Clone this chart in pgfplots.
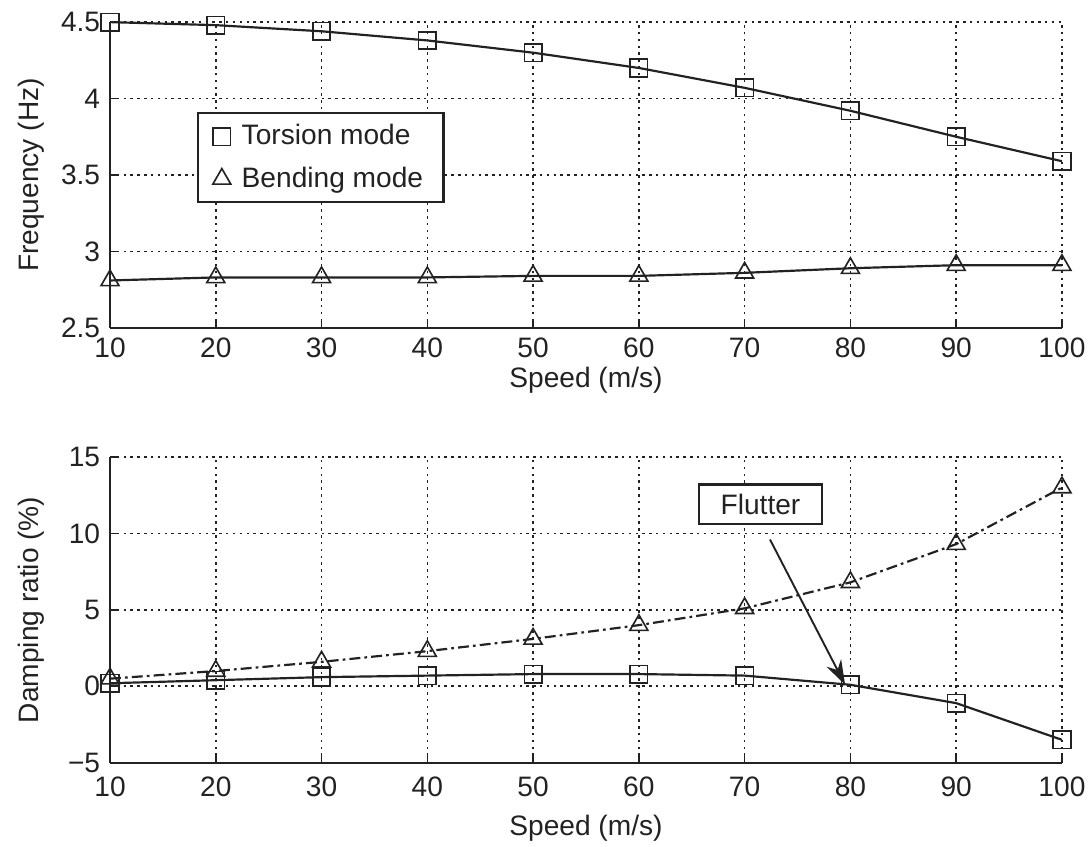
\documentclass[border=0pt]{standalone}
\usepackage{pgfplots}
\pgfplotsset{compat=1.18}
\usepackage{fontspec}
\setmainfont{Liberation Sans}
\usetikzlibrary{arrows.meta}
\definecolor{ink}{HTML}{222222}
\begin{document}
\fontsize{10.3}{12}\selectfont
\begin{tikzpicture}
\pgfplotsset{
  every axis/.append style={
    scale only axis, width=348.7pt, height=112pt,
    axis x line*=bottom, axis y line*=left,
    axis line style={-, ink, line width=0.8pt},
    tick align=inside, tick style={ink, line width=0.6pt}, major tick length=3pt,
    grid=major,
    major grid style={ink, line width=0.6pt, dash pattern=on 0.9pt off 1.6pt},
    xmin=10, xmax=100, xtick={10,20,...,100},
    /pgf/number format/assume math mode=true,
    tick label style={font=\fontsize{10.3}{12}\selectfont, text=ink},
    label style={font=\fontsize{10.3}{12}\selectfont, text=ink},
    ylabel style={at={(axis description cs:-0.083,0.5)}, anchor=center},
    clip=false,
  },
}
\useasboundingbox (-40.3pt,-189.8pt) rectangle (359.7pt,120.1pt);
% Top axis
\begin{axis}[at={(0,0)}, anchor=south west,
  ymin=2.5, ymax=4.5, ytick={2.5,3,3.5,4,4.5}, yticklabels={2.5,3,3.5,4,4.5},
  xlabel={Speed (m/s)}, ylabel={Frequency (Hz)},
  xlabel style={at={(axis description cs:0.5,0)}, anchor=center, yshift=-19pt},
  legend style={at={(axis cs:18.2,3.91)}, anchor=north west, draw=ink, line width=0.8pt,
    font=\fontsize{10.3}{12}\selectfont, text=ink, fill=white,
    row sep=2.5pt, inner xsep=5.5pt, inner ysep=2pt,
    /tikz/every odd column/.append style={column sep=2pt}},
  legend cell align=left,
]
\addlegendimage{only marks, mark=square, mark size=3.2pt, ink, line width=0.6pt}
\addlegendentry{Torsion mode}
\addlegendimage{only marks, mark=triangle, mark size=3.8pt, ink, line width=0.6pt}
\addlegendentry{Bending mode}
\addplot[ink, line width=0.8pt, mark=square, mark size=3.2pt, mark options={line width=0.6pt}, forget plot] coordinates {
(10,4.50) (20,4.48) (30,4.44) (40,4.38) (50,4.30) (60,4.20) (70,4.07) (80,3.92) (90,3.75) (100,3.59)};
\addplot[ink, line width=0.8pt, mark=triangle, mark size=3.8pt, mark options={line width=0.6pt}, forget plot] coordinates {
(10,2.81) (20,2.83) (30,2.83) (40,2.83) (50,2.84) (60,2.84) (70,2.86) (80,2.89) (90,2.91) (100,2.91)};
\end{axis}
% Bottom axis
\begin{axis}[at={(0,-159.3pt)}, anchor=south west,
  ymin=-5, ymax=15, ytick={-5,0,5,10,15}, yticklabels={−5,0,5,10,15},
  xlabel={Speed (m/s)}, ylabel={Damping ratio (\%)},
  xlabel style={at={(axis description cs:0.5,0)}, anchor=center, yshift=-24pt},
  xticklabel style={yshift=-1.5pt},
]
\addplot[ink, line width=0.8pt, mark=square, mark size=3.2pt, mark options={line width=0.6pt}] coordinates {
(10,0.2) (20,0.4) (30,0.6) (40,0.7) (50,0.8) (60,0.8) (70,0.7) (80,0.1) (90,-1.1) (100,-3.5)};
\addplot[ink, line width=0.8pt, dash pattern=on 4pt off 1.5pt on 1pt off 1.5pt, mark=triangle, mark size=3.8pt, mark options={solid, line width=0.6pt}] coordinates {
(10,0.5) (20,1.0) (30,1.6) (40,2.3) (50,3.1) (60,4.0) (70,5.1) (80,6.8) (90,9.3) (100,13.0)};
\node[draw=ink, line width=0.8pt, fill=white, text=ink, inner xsep=8pt, minimum height=14.6pt, font=\fontsize{10.3}{12}\selectfont] at (axis cs:71.5,11.9) {Flutter};
\draw[ink, line width=0.7pt, -{Stealth[length=9pt, width=6pt]}] (axis cs:72.4,9.6) -- (axis cs:79.5,0.1);
\end{axis}
\end{tikzpicture}
\end{document}
